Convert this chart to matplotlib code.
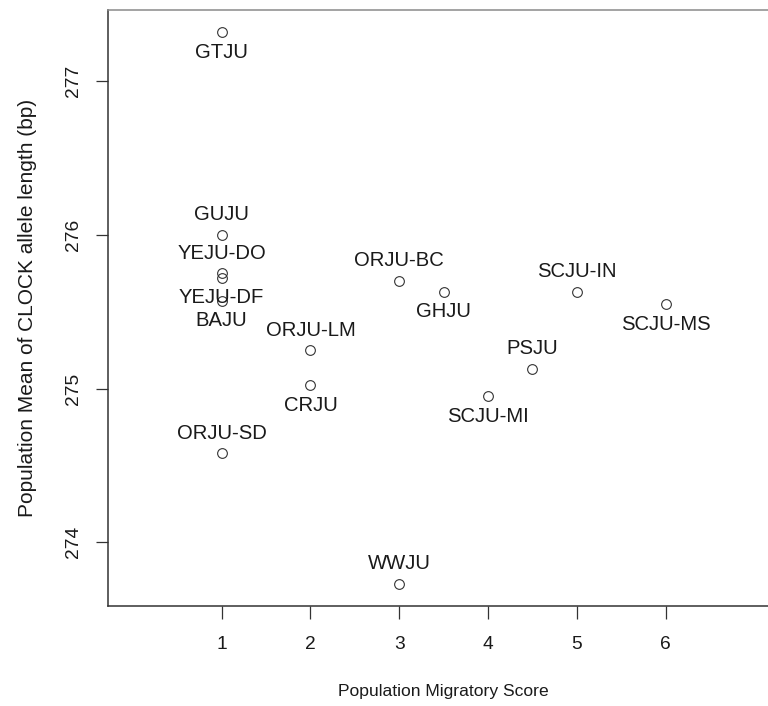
import matplotlib
matplotlib.use("Agg")
import matplotlib.pyplot as plt
from matplotlib import font_manager

# Population codes, migratory score and mean CLOCK allele length
populations = ["GTJU", "GUJU", "YEJU-DO", "YEJU-DF", "BAJU", "ORJU-SD",
               "ORJU-LM", "CRJU", "ORJU-BC", "WWJU", "GHJU", "SCJU-MI",
               "PSJU", "SCJU-IN", "SCJU-MS"]
migratory_score = [1, 1, 1, 1, 1, 1, 2, 2, 3, 3, 3.5, 4, 4.5, 5, 6]
mean_length = [277.32, 276.00, 275.75, 275.72, 275.57, 274.58,
               275.25, 275.02, 275.70, 273.73, 275.63, 274.95,
               275.13, 275.63, 275.55]
# 1 = label below the point, 3 = label above
label_pos = [1, 3, 3, 1, 1, 3, 3, 1, 3, 3, 1, 1, 3, 3, 1]

x_ticks = [1, 2, 3, 4, 5, 6]
y_ticks = [274, 275, 276, 277]

names = {f.name for f in font_manager.fontManager.ttflist}
body_font = "Liberation Sans" if "Liberation Sans" in names else "DejaVu Sans"
plt.rcParams["font.family"] = [body_font, "DejaVu Sans"]

fs = 13.8
fig = plt.figure(figsize=(7.68, 7.06), dpi=100)
ax = fig.add_axes([0.1406, 0.1421, 0.874, 0.8437])

ax.plot(migratory_score, mean_length, linestyle="none", marker="o",
        markersize=7.0, markerfacecolor="none", markeredgecolor="#333333",
        markeredgewidth=0.8)

for name, x, y, p in zip(populations, migratory_score, mean_length, label_pos):
    dy = -14.4 if p == 1 else 14.4
    ax.annotate(name, (x, y), xytext=(0, dy), textcoords="offset points",
                ha="center", va="center", fontsize=14.6, color="#1a1a1a")

# R-style 4% padding around the data range
x_lo, x_hi = 0, 7
pad = 0.04 * (x_hi - x_lo)
ax.set_xlim(x_lo - pad, x_hi + pad)
y_lo, y_hi = min(mean_length), max(mean_length)
pad = 0.04 * (y_hi - y_lo)
ax.set_ylim(y_lo - pad, y_hi + pad)

ax.set_xticks(x_ticks)
ax.set_yticks(y_ticks)
ax.set_xticklabels([str(t) for t in x_ticks])
ax.set_yticklabels([str(t) for t in y_ticks], rotation=90, va="center")
ax.tick_params(direction="out", length=9, width=0.9, color="#333333",
               labelsize=fs, labelcolor="#1a1a1a")
ax.tick_params(axis="x", pad=12.5)
ax.tick_params(axis="y", pad=10)

for side in ["top", "bottom", "left", "right"]:
    ax.spines[side].set_linewidth(1.1)
    ax.spines[side].set_color("#333333")
ax.spines["top"].set_color("#8a8a8a")

ax.set_xlabel("Population Migratory Score", fontsize=12.6,
              color="#1a1a1a", labelpad=23)
ax.set_ylabel("Population Mean of CLOCK allele length (bp)", fontsize=15.0,
              color="#1a1a1a", labelpad=20)

fig.savefig("out.png", dpi=100)
